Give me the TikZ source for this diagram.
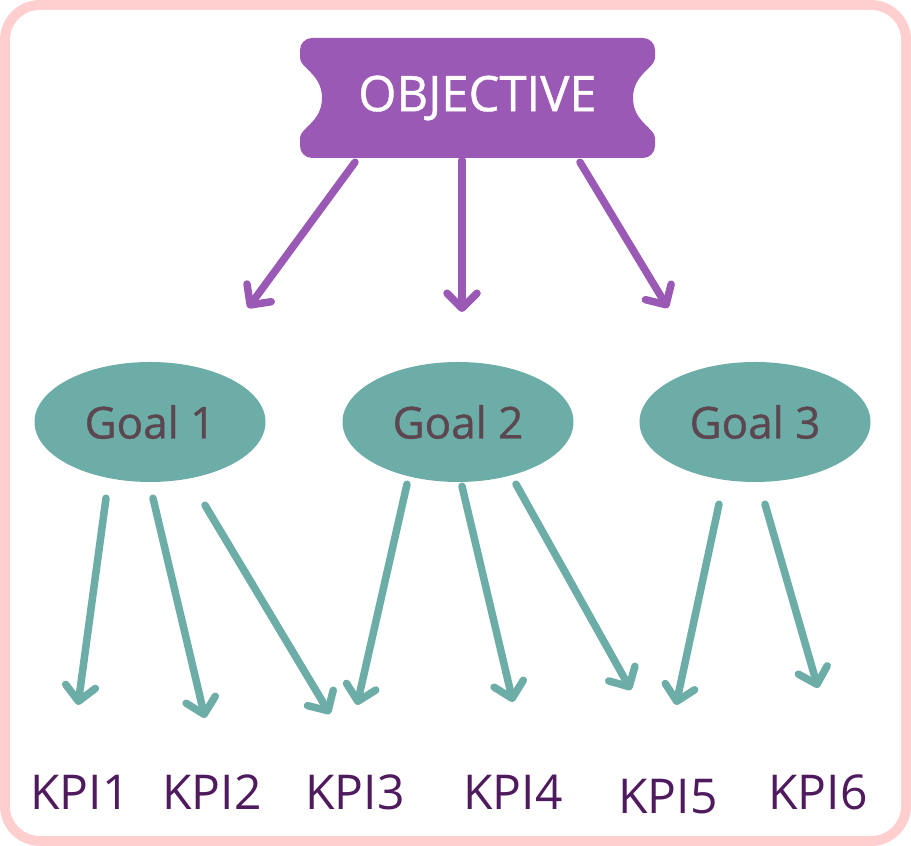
\documentclass[tikz,border=0pt]{standalone}
\usepackage{fontspec}
\setmainfont{Open Sans}
\newfontfamily\goalfont[FakeBold=0.8]{Open Sans}
\usetikzlibrary{arrows.meta,shapes.geometric}
\definecolor{framepink}{HTML}{FFCFCF}
\definecolor{objpurple}{HTML}{9B59B6}
\definecolor{goalteal}{HTML}{6DADA7}
\definecolor{goaltext}{HTML}{5C4650}
\definecolor{kpitext}{HTML}{4F1A5E}
\begin{document}
\begin{tikzpicture}[x=1pt,y=1pt,
    goal/.style={ellipse, fill=goalteal, text=goaltext, minimum width=231pt, minimum height=120pt, inner sep=0pt, font=\goalfont\fontsize{44}{46}\selectfont},
    kpi/.style={text=kpitext, inner sep=0pt, font=\fontsize{48}{50}\selectfont},
    objarrow/.style={draw=objpurple, line width=7.5pt, line cap=round, -{Straight Barb[length=15pt,width=30pt,line cap=round,line join=round]}},
    kpiarrow/.style={draw=goalteal, line width=7.5pt, line cap=round, -{Straight Barb[length=15pt,width=30pt,line cap=round,line join=round]}}]
        \useasboundingbox (0,0) rectangle (911,846);
        % frame
        \fill [framepink, rounded corners=40pt] (0,0) rectangle (911,846);
        \fill [white, rounded corners=30pt] (10,10) rectangle (901,836);

        % objective ticket
        \fill [objpurple] (312,808) -- (643,808) arc[start angle=90, end angle=0, radius=12]
            -- (655,788) .. controls (655,778) and (633,772) .. (633,748)
            .. controls (633,724) and (655,718) .. (655,708)
            -- (655,700) arc[start angle=0, end angle=-90, radius=12]
            -- (312,688) arc[start angle=270, end angle=180, radius=12]
            -- (300,708) .. controls (300,718) and (322,724) .. (322,748)
            .. controls (322,772) and (300,778) .. (300,788)
            -- (300,796) arc[start angle=180, end angle=90, radius=12] -- cycle;
        \node [minimum width=355pt, minimum height=120pt, inner sep=0pt, text=white, font=\goalfont\fontsize{49}{51}\selectfont] (obj) at (477.5,748) {OBJECTIVE};

        \node [goal] (goal1) at (150,424) {Goal 1};
        \node [goal] (goal2) at (458,424) {Goal 2};
        \node [goal] (goal3) at (755,424) {Goal 3};

        \node [kpi] (kpi1) at (80,54) {KPI1};
        \node [kpi] (kpi2) at (212,54) {KPI2};
        \node [kpi] (kpi3) at (355,54) {KPI3};
        \node [kpi] (kpi4) at (513,54) {KPI4};
        \node [kpi] (kpi5) at (668,49) {KPI5};
        \node [kpi] (kpi6) at (818,54) {KPI6};

        % arrow tips
        \coordinate (otip1) at (248,538);
        \coordinate (otip2) at (462,534);
        \coordinate (otip3) at (668,538);
        \coordinate (ktip1) at (78,141);
        \coordinate (ktip2) at (205,128);
        \coordinate (ktip3) at (330,132);
        \coordinate (ktip4) at (357,141);
        \coordinate (ktip5) at (513,144);
        \coordinate (ktip6) at (631,156);
        \coordinate (ktip7) at (676,141);
        \coordinate (ktip8) at (818,158);

        \draw [objarrow] ([shift={(-122.5,-4)}]obj.south) -- (otip1);
        \draw [objarrow] ([shift={(-15.5,-2)}]obj.south) -- (otip2);
        \draw [objarrow] ([shift={(102.5,-4)}]obj.south) -- (otip3);

        \draw [kpiarrow] ([shift={(-44,-16)}]goal1.south) -- (ktip1);
        \draw [kpiarrow] ([shift={(3,-16)}]goal1.south) -- (ktip2);
        \draw [kpiarrow] ([shift={(55,-23)}]goal1.south) -- (ktip3);
        \draw [kpiarrow] ([shift={(-51,-2)}]goal2.south) -- (ktip4);
        \draw [kpiarrow] ([shift={(4,-4)}]goal2.south) -- (ktip5);
        \draw [kpiarrow] ([shift={(58,-2)}]goal2.south) -- (ktip6);
        \draw [kpiarrow] ([shift={(-36,-22)}]goal3.south) -- (ktip7);
        \draw [kpiarrow] ([shift={(10,-22)}]goal3.south) -- (ktip8);
    \end{tikzpicture}
\end{document}
